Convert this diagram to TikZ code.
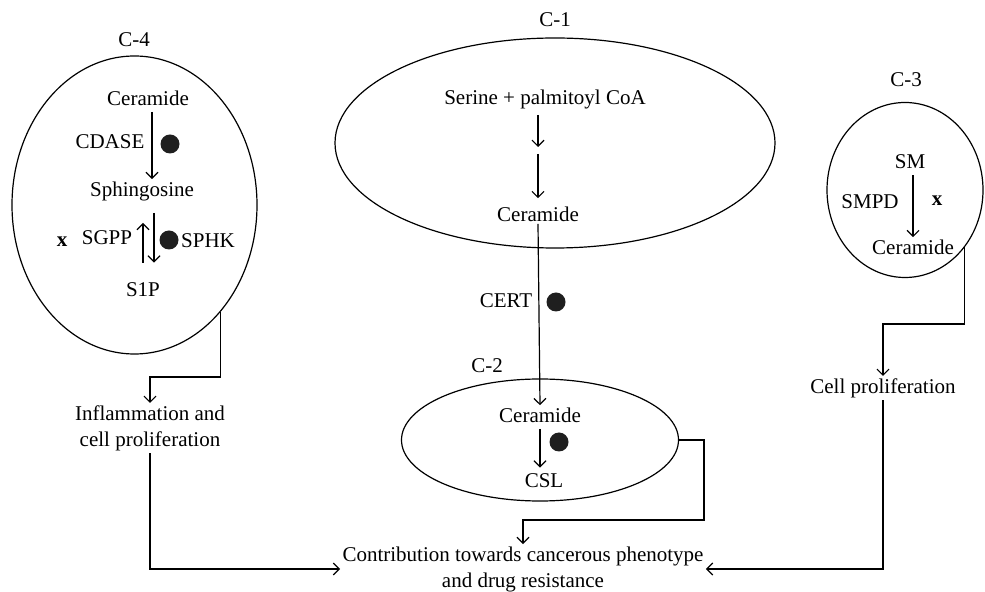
\documentclass[tikz,border=0pt]{standalone}
\usepackage{fontspec}
\setmainfont{Liberation Serif}
\usetikzlibrary{shapes.geometric}
\usetikzlibrary{arrows.meta}

\begin{document}
\begin{tikzpicture}[x=0.5pt, y=-0.5pt,
            lbl/.style={inner sep=1pt, font=\fontsize{10.5}{13}\selectfont, align=center},
            comp/.style={draw, ellipse, line width=0.6pt, inner sep=0pt},
            blob/.style={circle, fill=black!88, minimum size=9.5pt, inner sep=0pt},
            link/.style={line width=0.6pt},
            arr/.style={line width=0.6pt, -{Straight Barb[length=3pt,width=6pt]}}]
        \useasboundingbox (0,0) rectangle (985,592);

        \node[comp, minimum width=122.5pt, minimum height=149pt] (c4) at (134.5,205) {};
        \node[lbl] (lab4) at (134,40) {C-4};
        \node[lbl] (cer4) at (148,98) {Ceramide};
        \node[lbl] (cdase) at (110,142) {CDASE};
        \node[blob] (dot4a) at (170,144) {};
        \node[lbl] (sph) at (142,191) {Sphingosine};
        \node[lbl] (xmark4) at (62,242) {\textbf{x}};
        \node[lbl] (sgpp) at (107,238) {SGPP};
        \node[blob] (dot4b) at (169,240) {};
        \node[lbl] (sphk) at (208,241) {SPHK};
        \node[lbl] (s1p) at (143,290) {S1P};
        \node[lbl] (infl) at (150,428) {Inflammation and\\cell proliferation};
        \coordinate (c4b) at (150,377);

        \node[comp, minimum width=220pt, minimum height=105pt] (c1) at (555,143) {};
        \node[lbl] (lab1) at (555,20) {C-1};
        \node[lbl] (ser) at (545,99) {Serine + palmitoyl CoA};
        \coordinate (c1mid) at (538,150.5);
        \node[lbl] (cer1) at (538,214) {Ceramide};
        \node[lbl] (cert) at (506,301) {CERT};
        \node[blob] (dot1) at (556,302) {};

        \node[comp, minimum width=138.5pt, minimum height=61pt] (c2) at (540,440) {};
        \node[lbl] (lab2) at (487,366) {C-2};
        \node[lbl] (cer2) at (540,415) {Ceramide};
        \node[blob] (dot2) at (559,442) {};
        \node[lbl] (csl) at (544,481) {CSL};
        \coordinate (c2b) at (704,520);

        \node[comp, minimum width=78pt, minimum height=87.5pt] (c3) at (905,190) {};
        \node[lbl] (lab3) at (906,80) {C-3};
        \node[lbl] (sm) at (910,162) {SM};
        \node[lbl] (smpd) at (870,202) {SMPD};
        \node[lbl] (xmark3) at (937,201) {\textbf{x}};
        \node[lbl] (cer3) at (913,247) {Ceramide};
        \node[lbl] (cellp) at (883,388) {Cell proliferation};
        \coordinate (c3b) at (883,324);

        \node[lbl] (contrib) at (523,569) {Contribution towards cancerous phenotype\\and drug resistance};

        \draw[arr, shorten <=2pt] ([xshift=2pt]cer4.south) -- ([xshift=5pt]sph.north);
        \draw[arr, shorten <=9pt, shorten >=10pt] (s1p.north) -- ([xshift=0.5pt]sph.south);
        \draw[arr, shorten <=5pt, shorten >=9pt] ([xshift=6pt]sph.south) -- ([xshift=5.5pt]s1p.north);
        \draw[arr, shorten <=2pt, shorten >=1.75pt] ([xshift=-3.5pt]ser.south) -- (c1mid);
        \draw[arr, shorten <=1.75pt, shorten >=3pt] (c1mid) -- (cer1.north);
        \draw[arr] (cer1.south) -- (cer2.north);
        \draw[arr, shorten <=2pt, shorten >=2pt] (cer2.south) -- ([xshift=-2pt]csl.north);
        \draw[arr, shorten <=2pt] ([xshift=1.5pt]sm.south) -- (cer3.north);

        \draw[arr] (c4.-51) |- (c4b) -- (infl.north);
        \draw[arr] (c3.-44) |- (c3b) -- (cellp.north);
        \draw[arr] (c2.east) -| (c2b) -| (contrib.north);
        \draw[arr] (infl.south) |- (contrib.west);
        \draw[arr] (cellp.south) |- (contrib.east);
    \end{tikzpicture}
\end{document}
